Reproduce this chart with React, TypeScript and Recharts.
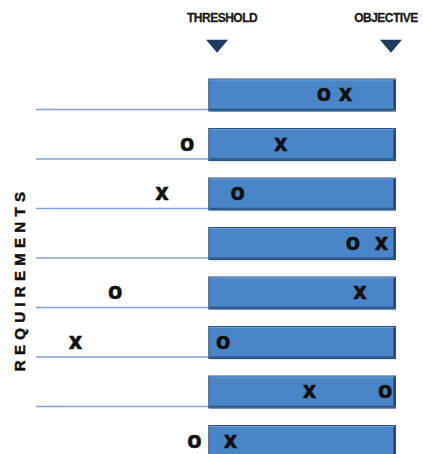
import React from "react";
import { ComposedChart, Bar, Scatter, XAxis, YAxis, ReferenceDot } from "recharts";

const requirements = ["R1", "R2", "R3", "R4", "R5", "R6", "R7", "R8"];
const thresholdValues = [48, 48, 48, 48, 48, 48, 48, 48];
const objectiveValues = [100, 100, 100, 100, 100, 100, 100, 100];
const oValues = [80, 42, 56, 88, 22, 52, 97, 44];
const xValues = [86, 68, 35, 96, 90, 11, 76, 54];
const headerLabels = ["THRESHOLD", "OBJECTIVE"];
const headerValues = [50.3, 98.6];

const data = requirements.map((name, i) => ({
  name,
  lead: thresholdValues[i],
  span: objectiveValues[i] - thresholdValues[i],
  o: oValues[i],
  x: xValues[i],
}));

const MARK_FONT = "'Open Sans', 'Liberation Sans', Arial, sans-serif";

const LeadShape = (props: any) => {
  const { x, y, width, height } = props;
  const ly = y + height - 1.5;
  return <line x1={x} x2={x + width} y1={ly} y2={ly} stroke="#7FA3D3" strokeWidth={1.5} />;
};

const SpanShape = (props: any) => {
  const { x, y, width, height } = props;
  return (
    <g>
      <rect x={x + 1} y={y + 1} width={width} height={height} fill="#9DB3CC" opacity={0.6} />
      <rect x={x} y={y} width={width} height={height} fill="#4A86C7" stroke="#2C527F" strokeWidth={1} />
      <line x1={x + 1} x2={x + width - 1} y1={y + 1} y2={y + 1} stroke="#6E9FD6" strokeWidth={1} />
      <line x1={x + width - 1.5} x2={x + width - 1.5} y1={y + 1} y2={y + height - 1} stroke="#1F3D62" strokeWidth={2} />
      <line x1={x + 1} x2={x + width - 1} y1={y + height - 1.5} y2={y + height - 1.5} stroke="#2A5386" strokeWidth={1.5} />
    </g>
  );
};

const makeMark = (ch: string) => (props: any) => {
  const { cx, cy } = props;
  if (cx == null || cy == null) return <g />;
  return (
    <text
      x={cx}
      y={cy + 6.5}
      textAnchor="middle"
      fontFamily={MARK_FONT}
      fontWeight={800}
      fontSize={18}
      stroke="#111"
      strokeWidth={0.5}
      fill="#111"
    >
      {ch}
    </text>
  );
};

const makeHeader = (label: string, dx: number) => (props: any) => {
  const { cx, cy } = props;
  const ty = cy - 55;
  return (
    <g>
      <text
        x={cx + dx}
        y={cy - 73}
        textAnchor="middle"
        fontFamily="'Liberation Sans', Arial, sans-serif"
        fontWeight={700}
        fontSize={12}
        letterSpacing={-0.5}
        stroke="#1a1a1a"
        strokeWidth={0.3}
        fill="#1a1a1a"
      >
        {label}
      </text>
      <polygon points={`${cx - 11},${ty} ${cx + 11},${ty} ${cx},${ty + 13}`} fill="#1F3B5E" />
    </g>
  );
};

export default function App() {
  return (
    <div style={{ position: "absolute", left: 0, top: 0, width: 423, height: 454, overflow: "hidden", background: "#fff" }}>
      <ComposedChart
        width={423}
        height={470}
        data={data}
        layout="vertical"
        margin={{ top: 70, right: 27, bottom: 4, left: 36 }}
      >
        <XAxis type="number" domain={[0, 100]} hide allowDataOverflow />
        <YAxis type="category" dataKey="name" hide />
        <Bar dataKey="lead" stackId="s" barSize={32} shape={<LeadShape />} isAnimationActive={false} />
        <Bar dataKey="span" stackId="s" barSize={32} shape={<SpanShape />} isAnimationActive={false} />
        <Scatter dataKey="o" shape={makeMark("O")} isAnimationActive={false} />
        <Scatter dataKey="x" shape={makeMark("X")} isAnimationActive={false} />
        {headerLabels.map((label, i) => (
          <ReferenceDot
            key={label}
            x={headerValues[i]}
            y={requirements[0]}
            ifOverflow="visible"
            shape={makeHeader(label, i === 0 ? 5 : -5)}
          />
        ))}
      </ComposedChart>
      <svg style={{ position: "absolute", left: 0, top: 0 }} width={40} height={454}>
        <text
          x={0}
          y={0}
          transform="translate(25,279) rotate(-90)"
          textAnchor="middle"
          fontFamily="'Liberation Sans', Arial, sans-serif"
          fontWeight={700}
          fontSize={15}
          letterSpacing={5.3}
          stroke="#111"
          strokeWidth={0.5}
          fill="#111"
        >
          REQUIREMENTS
        </text>
      </svg>
    </div>
  );
}
